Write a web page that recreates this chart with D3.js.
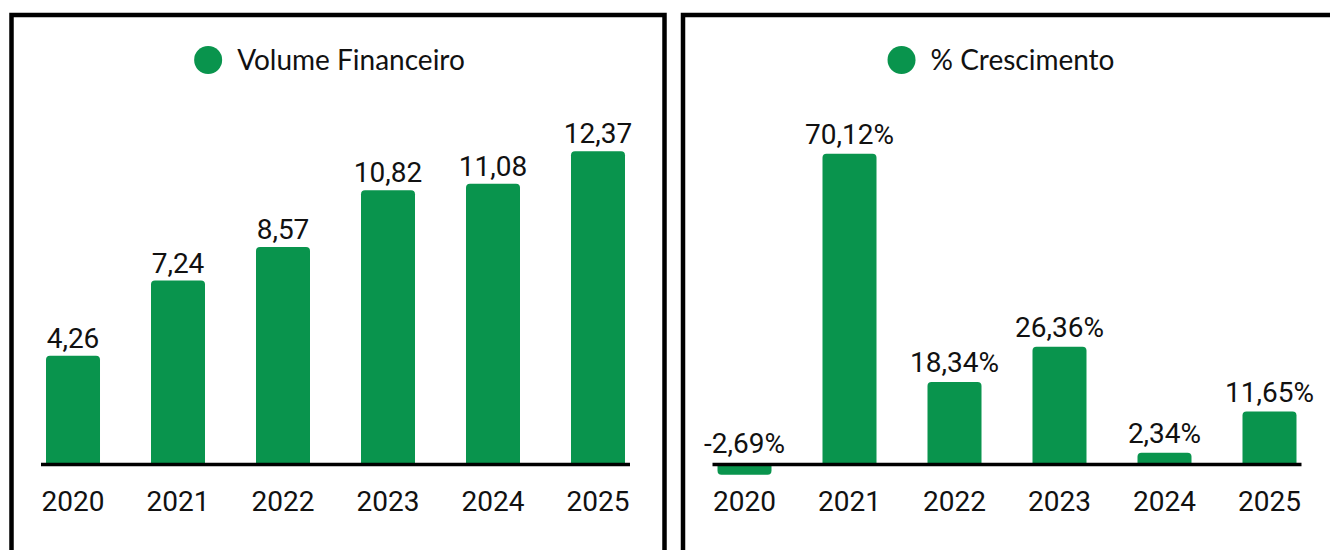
<!DOCTYPE html>
<html>
<head>
<meta charset="utf-8">
<script src="https://cdn.jsdelivr.net/npm/d3@7"></script>
<style>
  body { margin: 0; background: #fff; }
  svg { display: block; }
</style>
</head>
<body>
<svg id="chart"></svg>
<script>
// données
var anos = ["2020", "2021", "2022", "2023", "2024", "2025"];
var volume = [4.26, 7.24, 8.57, 10.82, 11.08, 12.37];
var crescimento = [-2.69, 70.12, 18.34, 26.36, 2.34, 11.65];
var legendas = ["Volume Financeiro", "% Crescimento"];

var verde = "#09944d";
var loc = d3.formatLocale({ decimal: ",", thousands: ".", grouping: [3], currency: ["R$", ""], minus: "-" });
var fmt = loc.format(".2f");

var svg = d3.select("#chart").attr("width", 1330).attr("height", 550);

// barre avec coins arrondis du côté de la valeur
function barPath(x0, w, yBase, yVal, r) {
    var up = yVal < yBase;
    var h = Math.abs(yBase - yVal);
    r = Math.min(r, h / 2, w / 2);
    if (up) {
        return "M" + x0 + "," + yBase +
            "V" + (yVal + r) +
            "Q" + x0 + "," + yVal + " " + (x0 + r) + "," + yVal +
            "H" + (x0 + w - r) +
            "Q" + (x0 + w) + "," + yVal + " " + (x0 + w) + "," + (yVal + r) +
            "V" + yBase + "Z";
    }
    return "M" + x0 + "," + yBase +
        "V" + (yVal - r) +
        "Q" + x0 + "," + yVal + " " + (x0 + r) + "," + yVal +
        "H" + (x0 + w - r) +
        "Q" + (x0 + w) + "," + yVal + " " + (x0 + w) + "," + (yVal - r) +
        "V" + yBase + "Z";
}

function drawPanel(px, valores, maxY, legenda, sufixo, gap) {
    var g = svg.append("g");

    g.append("rect")
        .attr("x", px).attr("y", 15)
        .attr("width", 653).attr("height", 700)
        .attr("fill", "none")
        .attr("stroke", "#000")
        .attr("stroke-width", 4.5);

    var x = d3.scaleBand()
        .domain(anos)
        .range([px + 9, px + 9 + 630])
        .paddingInner(0.4857)
        .paddingOuter(0.2429);

    var y = d3.scaleLinear()
        .domain([0, maxY])
        .range([463, 110.2]);

    var bw = x.bandwidth();

    // legenda
    var leg = g.append("g");
    leg.append("circle").attr("cx", 14).attr("cy", 0).attr("r", 14).attr("fill", verde);
    var lt = leg.append("text")
        .attr("x", 43).attr("y", 10)
        .style("font", "28px Lato")
        .attr("fill", "#111")
        .text(legenda);
    var lw = 43 + lt.node().getComputedTextLength();
    leg.attr("transform", "translate(" + (px + 318 - lw / 2) + ",60)");

    g.selectAll(".bar")
        .data(valores)
        .enter().append("path")
        .attr("class", "bar")
        .attr("fill", verde)
        .attr("d", function(d, i) {
            return barPath(x(anos[i]), bw, y(0), y(d), 4);
        });

    g.append("line")
        .attr("x1", x(anos[0]) - 5)
        .attr("x2", x(anos[anos.length - 1]) + bw + 5)
        .attr("y1", 464.5).attr("y2", 464.5)
        .attr("stroke", "#000")
        .attr("stroke-width", 3.5);

    g.selectAll(".val")
        .data(valores)
        .enter().append("text")
        .attr("class", "val")
        .attr("x", function(d, i) { return x(anos[i]) + bw / 2; })
        .attr("y", function(d) { return y(Math.max(d, 0)) - gap; })
        .attr("text-anchor", "middle")
        .style("font", "28px Roboto")
        .attr("fill", "#111")
        .text(function(d) { return fmt(d) + sufixo; });

    g.selectAll(".ano")
        .data(anos)
        .enter().append("text")
        .attr("class", "ano")
        .attr("x", function(d) { return x(d) + bw / 2; })
        .attr("y", 511)
        .attr("text-anchor", "middle")
        .style("font", "28px Roboto")
        .attr("fill", "#111")
        .text(function(d) { return d; });
}

drawPanel(11.5, volume, 14, legendas[0], "", 8);
drawPanel(683, crescimento, 80, legendas[1], "%", 10);
</script>
</body>
</html>
